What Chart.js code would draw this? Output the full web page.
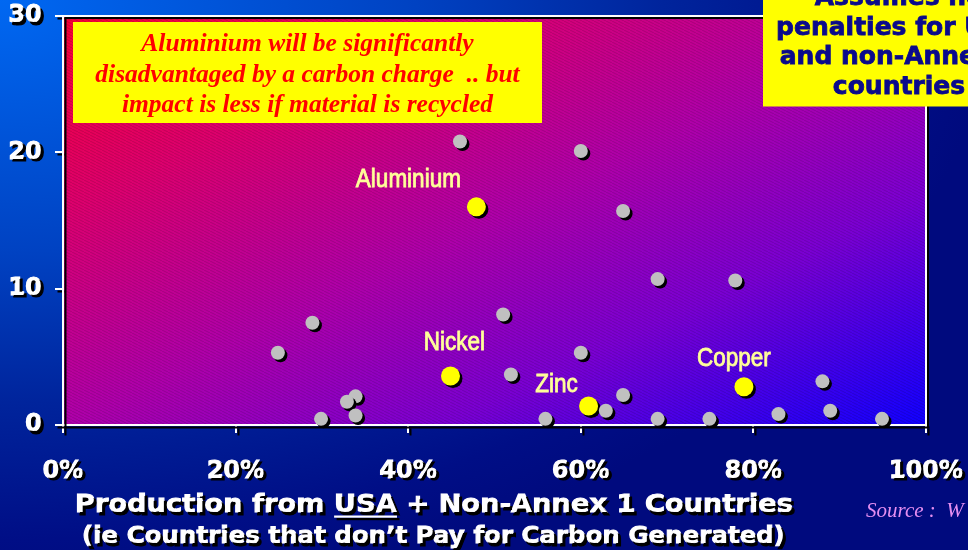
<!DOCTYPE html>
<html>
<head>
<meta charset="utf-8">
<script src="https://cdn.jsdelivr.net/npm/chart.js@4.4.1/dist/chart.umd.min.js"></script>
<style>
  html, body { margin: 0; padding: 0; background: #000a7e; overflow: hidden; }
  canvas { display: block; }
</style>
</head>
<body>
<canvas id="chart" width="968" height="550"></canvas>
<script>
// Highlighted metals: share of production from USA + non-Annex 1 countries (%) vs carbon charge impact
const highlightNames  = ['Aluminium', 'Nickel', 'Zinc', 'Copper'];
const highlightShare  = [47.9, 44.9, 60.9, 78.9];
const highlightImpact = [16.0, 3.6, 1.4, 2.8];

// Other metals
const otherShare  = [46.0, 60.0, 64.9, 68.9, 77.9, 51.0, 28.9, 24.9, 60.0, 51.9, 88.0, 33.9,
                     32.9, 64.9, 62.9, 33.9, 29.9, 55.9, 68.9, 74.9, 82.9, 88.9, 94.9];
const otherImpact = [20.8, 20.1, 15.7, 10.7, 10.6, 8.1, 7.5, 5.3, 5.3, 3.7, 3.2, 2.1,
                     1.7, 2.2, 1.05, 0.7, 0.45, 0.45, 0.45, 0.45, 0.8, 1.05, 0.45];

const xTickValues = [0, 20, 40, 60, 80, 100];
const yTickValues = [0, 10, 20, 30];

const noteLines = [
  'Aluminium will be significantly',
  'disadvantaged by a carbon charge  .. but',
  'impact is less if material is recycled'
];
const assumptionLines = ['Assumes no', 'penalties for USA', 'and non-Annex 1', 'countries'];
const titleLine1 = ['Production from ', 'USA', ' + Non-Annex 1 Countries'];
const titleLine2 = '(ie Countries that don\u2019t Pay for Carbon Generated)';
const sourceText = 'Source :  W';

// Label placement next to each highlighted point (pixels from the point)
const labelOffsets = [[-68, -20], [4, -26], [-32, -14], [-10, -21]];

const HEAVY = '"DejaVu Sans", "Liberation Sans", Arial, sans-serif';
const SERIF = '"Liberation Serif", "Times New Roman", serif';

function setShadow(ctx, d) {
  ctx.shadowColor = '#000000';
  ctx.shadowBlur = 0;
  ctx.shadowOffsetX = d;
  ctx.shadowOffsetY = d;
}
function clearShadow(ctx) {
  ctx.shadowColor = 'rgba(0,0,0,0)';
  ctx.shadowOffsetX = 0;
  ctx.shadowOffsetY = 0;
}

function makeHatch(ctx) {
  const t = document.createElement('canvas');
  t.width = 6; t.height = 3;
  const g = t.getContext('2d');
  g.strokeStyle = 'rgba(0,0,0,0.14)';
  g.lineWidth = 1;
  for (const dx of [-6, 0, 6]) {
    g.beginPath(); g.moveTo(dx, 0); g.lineTo(dx + 6, 3); g.stroke();
  }
  return ctx.createPattern(t, 'repeat');
}

// Text stretched/condensed to a given width, with optional underlined segment
function drawFitted(ctx, segments, cx, baseline, targetWidth, underlineIndex, stroke) {
  const widths = segments.map(s => ctx.measureText(s).width);
  const total = widths.reduce((a, b) => a + b, 0);
  const sx = targetWidth / total;
  ctx.save();
  ctx.translate(cx - targetWidth / 2, baseline);
  ctx.scale(sx, 1);
  let x = 0;
  segments.forEach((s, i) => {
    if (stroke) ctx.strokeText(s, x, 0);
    ctx.fillText(s, x, 0);
    if (i === underlineIndex) ctx.fillRect(x, 3.5, widths[i], 2.2);
    x += widths[i];
  });
  ctx.restore();
}

const decorPlugin = {
  id: 'decor',
  beforeDraw(chart) {
    const { ctx, chartArea: a, width, height } = chart;
    ctx.save();
    // page background
    ctx.save();
    ctx.scale(1.65, 1);
    const bg = ctx.createRadialGradient(0, 0, 0, 0, 0, 600);
    bg.addColorStop(0, '#0068f2');
    bg.addColorStop(0.42, '#0042c2');
    bg.addColorStop(0.67, '#00249c');
    bg.addColorStop(0.9, '#000e86');
    bg.addColorStop(1, '#000a7e');
    ctx.fillStyle = bg;
    ctx.fillRect(0, 0, width / 1.65 + 2, height);
    ctx.restore();

    // plot area fill: red -> magenta -> blue across the diagonal
    const w = a.right - a.left, h = a.bottom - a.top;
    const cx = (a.left + a.right) / 2, cy = (a.top + a.bottom) / 2;
    const d = Math.hypot(w, h), nx = h / d, ny = w / d, L = w * h / d;
    const pg = ctx.createLinearGradient(cx - nx * L, cy - ny * L, cx + nx * L, cy + ny * L);
    pg.addColorStop(0, '#f80034');
    pg.addColorStop(0.24, '#dc006e');
    pg.addColorStop(0.5, '#ae00aa');
    pg.addColorStop(0.72, '#7a00d2');
    pg.addColorStop(1, '#1000ff');
    ctx.fillStyle = pg;
    ctx.fillRect(a.left, a.top, w, h);
    ctx.fillStyle = makeHatch(ctx);
    ctx.fillRect(a.left, a.top, w, h);

    // frame on the top and right
    setShadow(ctx, 2);
    ctx.strokeStyle = '#ffffff';
    ctx.lineWidth = 2;
    ctx.beginPath();
    ctx.moveTo(a.left, a.top);
    ctx.lineTo(a.right, a.top);
    ctx.lineTo(a.right, a.bottom);
    ctx.stroke();
    ctx.restore();

    // axes, ticks and tick labels get a drop shadow
    setShadow(ctx, 2.5);
  },
  beforeDatasetsDraw(chart) {
    setShadow(chart.ctx, 2.5);
  },
  afterDatasetsDraw(chart) {
    const ctx = chart.ctx;
    clearShadow(ctx);
    const meta = chart.getDatasetMeta(1);
    ctx.save();
    ctx.font = '25px "Liberation Sans", Arial, sans-serif';
    ctx.fillStyle = '#ffff99';
    ctx.strokeStyle = '#ffff99';
    ctx.lineWidth = 0.8;
    ctx.textAlign = 'center';
    ctx.textBaseline = 'alphabetic';
    meta.data.forEach((pt, i) => {
      const [dx, dy] = labelOffsets[i];
      ctx.save();
      ctx.translate(pt.x + dx, pt.y + dy);
      ctx.scale(0.9, 1);
      ctx.strokeText(highlightNames[i], 0, 0);
      ctx.fillText(highlightNames[i], 0, 0);
      ctx.restore();
    });
    ctx.restore();
  },
  afterDraw(chart) {
    const ctx = chart.ctx;
    clearShadow(ctx);
    ctx.save();

    // note box
    ctx.fillStyle = '#ffff00';
    ctx.fillRect(73, 22, 469, 101);
    ctx.fillStyle = '#ff0000';
    ctx.font = 'italic bold 25.5px ' + SERIF;
    ctx.textAlign = 'center';
    ctx.textBaseline = 'alphabetic';
    [51, 82, 112].forEach((y, i) => ctx.fillText(noteLines[i], 307.5, y));

    // assumption box
    ctx.fillStyle = '#ffff00';
    ctx.fillRect(763, -40, 260, 146.5);
    ctx.fillStyle = '#0a0a8c';
    ctx.strokeStyle = '#0a0a8c';
    ctx.lineWidth = 0.8;
    ctx.font = 'bold 25px ' + HEAVY;
    [5, 34.5, 64, 93.5].forEach((y, i) => {
      ctx.strokeText(assumptionLines[i], 899, y);
      ctx.fillText(assumptionLines[i], 899, y);
    });

    // x-axis title
    ctx.textAlign = 'left';
    ctx.fillStyle = '#ffffff';
    ctx.strokeStyle = '#ffffff';
    ctx.lineWidth = 1;
    setShadow(ctx, 2.5);
    ctx.font = 'bold 24px ' + HEAVY;
    drawFitted(ctx, titleLine1, 434, 512, 718, 1, true);
    ctx.font = 'bold 23px ' + HEAVY;
    drawFitted(ctx, [titleLine2], 433.5, 543, 703, -1, true);
    clearShadow(ctx);

    // source note
    ctx.fillStyle = '#e48ef0';
    ctx.font = 'italic 21px ' + SERIF;
    ctx.fillText(sourceText, 866, 517);
    ctx.restore();
  }
};

const tickFont = { family: HEAVY, size: 24, weight: 'bold', lineHeight: 1.2 };

new Chart(document.getElementById('chart'), {
  type: 'scatter',
  data: {
    datasets: [
      {
        label: 'Other metals',
        data: otherShare.map((x, i) => ({ x, y: otherImpact[i] })),
        backgroundColor: '#c0c0c0',
        borderWidth: 0,
        pointRadius: 7,
        pointHoverRadius: 7,
        clip: false
      },
      {
        label: 'Highlighted metals',
        data: highlightShare.map((x, i) => ({ x, y: highlightImpact[i] })),
        backgroundColor: '#ffff00',
        borderWidth: 0,
        pointRadius: 9.5,
        pointHoverRadius: 9.5,
        clip: false
      }
    ]
  },
  options: {
    responsive: false,
    animation: false,
    devicePixelRatio: 1,
    layout: { padding: { top: 16, right: 42, left: 0, bottom: 0 } },
    plugins: { legend: { display: false }, tooltip: { enabled: false } },
    scales: {
      x: {
        type: 'linear',
        min: 0, max: 100,
        afterBuildTicks: s => { s.ticks = xTickValues.map(v => ({ value: v })); },
        afterFit: s => { s.height = 125; s.paddingLeft = 0; s.paddingRight = 0; },
        ticks: {
          color: '#ffffff',
          font: tickFont,
          padding: 24,
          maxRotation: 0,
          textStrokeColor: '#ffffff',
          textStrokeWidth: 1.2,
          callback: v => v + '%'
        },
        grid: { display: true, drawOnChartArea: false, drawTicks: true, tickLength: 8, color: '#ffffff', lineWidth: 2 },
        border: { display: true, color: '#ffffff', width: 2 }
      },
      y: {
        type: 'linear',
        min: 0, max: 30,
        afterBuildTicks: s => { s.ticks = yTickValues.map(v => ({ value: v })); },
        afterFit: s => { s.width = 63; s.paddingTop = 0; s.paddingBottom = 0; },
        ticks: {
          color: '#ffffff',
          font: tickFont,
          padding: 13,
          textStrokeColor: '#ffffff',
          textStrokeWidth: 1.2
        },
        grid: { display: true, drawOnChartArea: false, drawTicks: true, tickLength: 8, color: '#ffffff', lineWidth: 2 },
        border: { display: true, color: '#ffffff', width: 2 }
      }
    }
  },
  plugins: [decorPlugin]
});
</script>
</body>
</html>
